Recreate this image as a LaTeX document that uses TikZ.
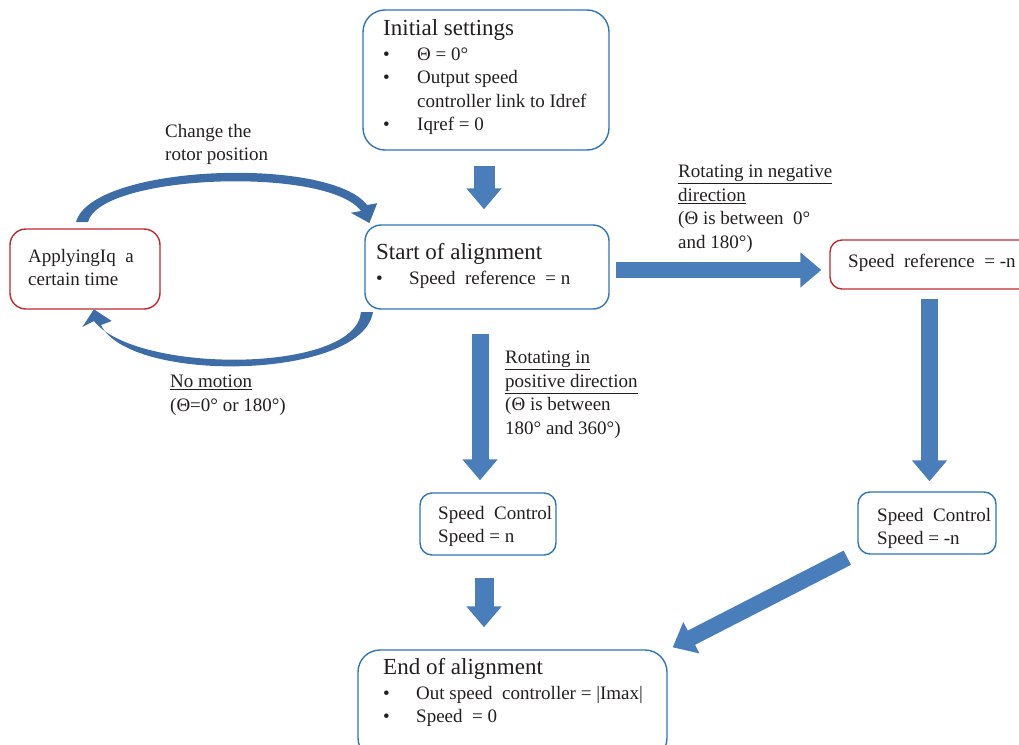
\documentclass[tikz,border=0pt]{standalone}
\usepackage{fontspec}
\setmainfont{Liberation Serif}
\usetikzlibrary{arrows.meta,calc}
\definecolor{bbord}{RGB}{46,117,182}
\definecolor{rbord}{RGB}{192,40,48}
\definecolor{afill}{RGB}{74,126,187}
\definecolor{cfill}{RGB}{62,108,166}
\definecolor{txt}{RGB}{35,31,32}
\begin{document}
\begin{tikzpicture}[x=1pt,y=-1pt,
  bluebox/.style={draw=bbord, line width=1.4pt, inner sep=0pt},
  redbox/.style={draw=rbord, line width=1.4pt, inner sep=0pt},
  txtblk/.style={anchor=north west, inner sep=0pt, align=left, text=txt, font=\fontsize{19}{23.5}\selectfont},
  barrow/.style={draw=afill, line width=18pt, -{Triangle[length=21pt,width=34pt]}},
  carrow/.style={fill=cfill, draw=none},
]
\useasboundingbox (0,0) rectangle (1019,744);
\clip (0,0) rectangle (1019,744);
% boxes
\node[bluebox, rounded corners=22pt, minimum width=246pt, minimum height=140pt] (init) at (486,80) {};
\node[bluebox, rounded corners=16pt, minimum width=244pt, minimum height=84pt] (start) at (487,267) {};
\node[redbox, rounded corners=16pt, minimum width=150pt, minimum height=80pt] (apply) at (85,269) {};
\node[redbox, rounded corners=12pt, minimum width=205pt, minimum height=49pt] (srn) at (932.5,264.5) {};
\node[bluebox, rounded corners=12pt, minimum width=136pt, minimum height=62pt] (scn) at (488,524) {};
\node[bluebox, rounded corners=12pt, minimum width=138pt, minimum height=62pt] (scmn) at (927,523) {};
\node[bluebox, rounded corners=22pt, minimum width=309pt, minimum height=110pt] (end) at (512.5,705) {};
% texts
\node[txtblk] (initT) at (383,19) {{\fontsize{23}{25}\selectfont Initial settings}\\[1.5pt]
 \makebox[34pt][l]{•}Θ = 0°\\
 \makebox[34pt][l]{•}Output speed\\
 \hspace*{34pt}controller link to Idref\\
 \makebox[34pt][l]{•}Iqref = 0};
\node[txtblk] (startT) at (376,243) {{\fontsize{23}{25}\selectfont Start of alignment}\\[1.5pt]
 \makebox[33pt][l]{•}Speed~ reference~ = n};
\node[txtblk] (applyT) at (28,249) {ApplyingIq~ a\\certain time};
\node[txtblk] (srnT) at (848,254) {Speed~ reference~ = -n};
\node[txtblk] (scnT) at (438,506) {Speed~ Control\\Speed = n};
\node[txtblk] (scmnT) at (877,508) {Speed~ Control\\Speed = -n};
\node[txtblk] (endT) at (383,658) {{\fontsize{23}{25}\selectfont End of alignment}\\[1.5pt]
 \makebox[33pt][l]{•}Out speed~ controller = |Imax|\\
 \makebox[33pt][l]{•}Speed~ = 0};
% labels
\node[txtblk] (lchange) at (165,124) {Change the\\rotor position};
\node[txtblk] (lnomo) at (170,375) {\underline{No motion}\\(Θ=0° or 180°)};
\node[txtblk] (lneg) at (678,165) {\underline{Rotating in negative}\\\underline{direction}\\(Θ is between~ 0°\\and 180°)};
\node[txtblk] (lpos) at (505,351) {\underline{Rotating in}\\\underline{positive direction}\\(Θ is between\\180° and 360°)};
% block arrows
\draw[barrow, line width=21pt] ($(init.south)+(-2,15)$) -- ($(start.north)+(-3,-15)$);
\draw[barrow, line width=17pt] ($(start.south)+(-7,24)$) -- ($(scn.north)+(-8,-12)$);
\draw[barrow, line width=19pt] ($(scn.south)+(-4,22)$) -- ($(end.north)+(-28.5,-22)$);
\draw[barrow, line width=16pt] ($(start.east)+(6,3)$) -- ($(srn.west)+(-8,5.5)$);
\draw[barrow, line width=17pt] ($(srn.south)+(-3,9)$) -- ($(scmn.north)+(2.5,-10)$);
\draw[barrow, line width=16pt] ($(scmn.south west)+(-10,3)$) -- ($(end.north east)+(5,-2)$);
% curved arrows (tapered)
\fill[carrow] (76,222) .. controls (92,164) and (330,156) .. (367,205)
  -- (377.2,203.2) -- (369.4,223) -- (350.8,212.8) -- (361,211)
  .. controls (328,166) and (100,174) .. (88,222) -- cycle;
\fill[carrow] (373,312) .. controls (362,380) and (130,384) .. (101,325)
  -- (111.7,321) -- (94,309.3) -- (82.3,327) -- (94,321)
  .. controls (135,374) and (356,374) .. (361,312) -- cycle;
\end{tikzpicture}
\end{document}
